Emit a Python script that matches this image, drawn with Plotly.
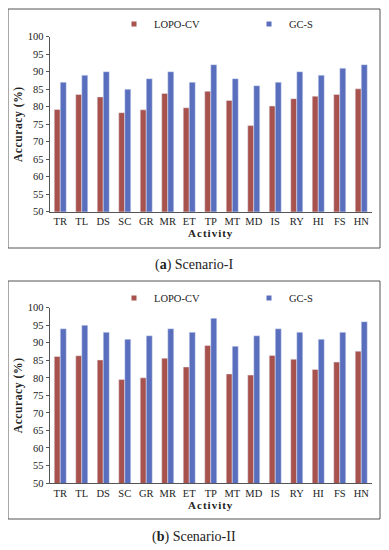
import plotly.graph_objects as go

activities = ["TR", "TL", "DS", "SC", "GR", "MR", "ET", "TP", "MT", "MD", "IS", "RY", "HI", "FS", "HN"]
lopo_s1 = [79.2, 83.5, 82.8, 78.3, 79.1, 83.8, 79.7, 84.4, 81.8, 74.6, 80.2, 82.3, 83.0, 83.5, 85.1]
gcs_s1 = [87, 89, 90, 85, 88, 90, 87, 92, 88, 86, 87, 90, 89, 91, 92]
lopo_s2 = [86.1, 86.3, 85.1, 79.5, 80.0, 85.6, 83.1, 89.2, 81.1, 80.8, 86.4, 85.3, 82.4, 84.5, 87.6]
gcs_s2 = [94, 95, 93, 91, 92, 94, 93, 97, 89, 92, 94, 93, 91, 93, 96]
y_ticks = list(range(50, 101, 5))

RED = "#A8524E"
BLUE = "#5A6EBE"
SERIF = "Liberation Serif"
W, H = 389, 550
OFF = 8  # page body margin offset

def px(v):
    return (v - OFF) / W

def py(v):
    return 1 - (v - OFF) / H

fig = go.Figure()
for xa, ya, lg, lopo, gcs in [("x", "y", "legend", lopo_s1, gcs_s1), ("x2", "y2", "legend2", lopo_s2, gcs_s2)]:
    fig.add_trace(go.Bar(x=activities, y=lopo, name="LOPO-CV", marker_color=RED, xaxis=xa, yaxis=ya, showlegend=False))
    fig.add_trace(go.Bar(x=activities, y=gcs, name="GC-S", marker_color=BLUE, xaxis=xa, yaxis=ya, showlegend=False))
    fig.add_trace(go.Scatter(x=[None], y=[None], mode="markers", name="LOPO-CV", xaxis=xa, yaxis=ya, legend=lg,
                             marker=dict(symbol="square", size=5, color=RED)))
    fig.add_trace(go.Scatter(x=[None], y=[None], mode="markers", name="GC-S", xaxis=xa, yaxis=ya, legend=lg,
                             marker=dict(symbol="square", size=5, color=BLUE)))

xdom = [px(49.5), px(372)]
ax_common = dict(showline=True, linecolor="#555", linewidth=1, showgrid=False, zeroline=False, automargin=False,
                 tickfont=dict(family=SERIF, size=10.5, color="#222"))
yax = dict(ax_common, range=[50, 100], tickvals=y_ticks, ticks="outside", ticklen=3, tickcolor="#555",
           title=dict(text="<span style='letter-spacing:0.6px'><b>Accuracy (%)</b></span>",
                      font=dict(family=SERIF, size=11.5, color="#222"), standoff=2))
xax = dict(ax_common, ticks="", fixedrange=True,
           title=dict(text="<span style='letter-spacing:1px'><b>Activity</b></span>",
                      font=dict(family=SERIF, size=11, color="#222"), standoff=3))

legend_common = dict(orientation="h", xanchor="left", yanchor="middle", font=dict(family=SERIF, size=10.5, color="#222"),
                     entrywidth=90, entrywidthmode="pixels", itemwidth=30, bgcolor="rgba(0,0,0,0)",
                     traceorder="normal", borderwidth=0)

fig.update_layout(
    width=W, height=H, margin=dict(l=0, r=0, t=0, b=0),
    paper_bgcolor="white", plot_bgcolor="white",
    barmode="group", bargap=0.44, bargroupgap=0,
    xaxis=dict(xax, domain=xdom, anchor="y"),
    yaxis=dict(yax, domain=[py(211.7), py(36.7)], anchor="x"),
    xaxis2=dict(xax, domain=xdom, anchor="y2"),
    yaxis2=dict(yax, domain=[py(483), py(307.7)], anchor="x2"),
    legend=dict(legend_common, x=px(114), y=py(24)),
    legend2=dict(legend_common, x=px(114), y=py(298)),
    shapes=[
        dict(type="rect", xref="paper", yref="paper", x0=px(8), x1=px(380), y0=py(248), y1=py(9),
             line=dict(color="#555", width=1)),
        dict(type="rect", xref="paper", yref="paper", x0=px(8), x1=px(380), y0=py(519), y1=py(281),
             line=dict(color="#555", width=1)),
    ],
    annotations=[
        dict(text="(<b>a</b>) Scenario-I", xref="paper", yref="paper", x=px(194), y=py(265), showarrow=False,
             font=dict(family=SERIF, size=14, color="#222"), xanchor="center", yanchor="middle"),
        dict(text="(<b>b</b>) Scenario-II", xref="paper", yref="paper", x=px(194), y=py(537), showarrow=False,
             font=dict(family=SERIF, size=14, color="#222"), xanchor="center", yanchor="middle"),
    ],
)

fig.write_html("out.html")
